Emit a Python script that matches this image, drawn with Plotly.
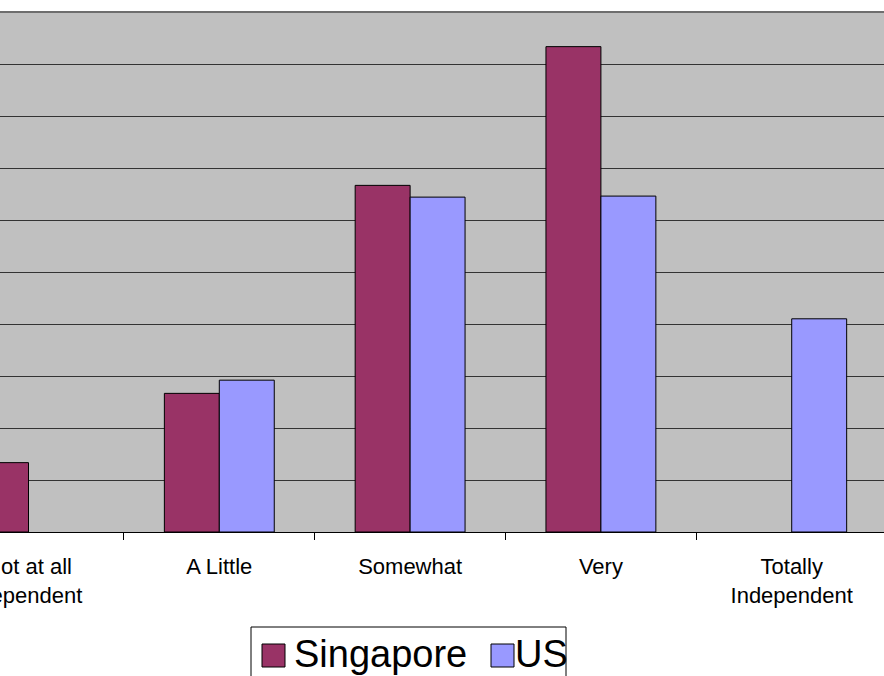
import plotly.graph_objects as go

categories = ["Not at all<br>Dependent", "A Little", "Somewhat", "Very", "Totally<br>Independent"]
singapore = [6.67, 13.33, 33.33, 46.67, None]
us = [None, 14.6, 32.2, 32.3, 20.5]
series_names = ["Singapore", "US"]
colors = ["#993366", "#9999FF"]

W, H = 884, 676
L, R, T, B = 0, 0, 12, 144
plot_h = H - T - B
FONT = "Liberation Sans, Arial, sans-serif"

fig = go.Figure()
for name, vals, col in zip(series_names, [singapore, us], colors):
    fig.add_trace(go.Bar(
        x=categories, y=vals, name=name,
        marker=dict(color=col, line=dict(color="#000000", width=1)),
        showlegend=False,
    ))

# custom legend (in paper coordinates)
def px_x(px):
    return (px - L) / (W - L - R)

def px_y(py):
    return (H - B - py) / plot_h

shapes = [
    # plot-area top border
    dict(type="line", xref="paper", yref="paper", x0=0, x1=1, y0=1, y1=1,
         line=dict(color="#6e6e6e", width=2), layer="above"),
    dict(type="rect", xref="paper", yref="paper",
         x0=px_x(251), x1=px_x(566), y0=px_y(700), y1=px_y(627),
         line=dict(color="#000000", width=1), fillcolor="white", layer="above"),
]
legend_items = [(262, 295, series_names[0], colors[0]), (491, 516, series_names[1], colors[1])]
annotations = []
for sx, tx, name, col in legend_items:
    shapes.append(dict(type="rect", xref="paper", yref="paper",
                       x0=px_x(sx), x1=px_x(sx + 23), y0=px_y(667), y1=px_y(644),
                       line=dict(color="#000000", width=1), fillcolor=col, layer="above"))
    annotations.append(dict(xref="paper", yref="paper", x=px_x(tx - 3), y=px_y(654),
                            xanchor="left", yanchor="middle", showarrow=False,
                            text=name, font=dict(size=38, color="#000000", family=FONT)))

fig.update_layout(
    width=W, height=H,
    margin=dict(l=L, r=R, t=T, b=B, pad=0, autoexpand=False),
    paper_bgcolor="white",
    plot_bgcolor="#C0C0C0",
    barmode="group",
    bargap=0.424,
    bargroupgap=0,
    font=dict(family=FONT, size=22, color="#000000"),
    shapes=shapes,
    annotations=annotations,
    showlegend=False,
)
fig.update_xaxes(
    type="category",
    automargin=False,
    range=[-0.1494, 4.4837],
    tickson="boundaries",
    ticks="outside", ticklen=7, tickcolor="#000000", tickwidth=1,
    ticklabelstandoff=15,
    showline=True, linecolor="#000000", linewidth=1,
    showgrid=False, zeroline=False,
    tickfont=dict(size=22, family=FONT),
)
fig.update_yaxes(
    automargin=False,
    range=[0, 50], dtick=5,
    showgrid=True, gridcolor="#333333", gridwidth=1,
    showticklabels=False, ticks="", zeroline=False,
)

fig.write_html("out.html")
